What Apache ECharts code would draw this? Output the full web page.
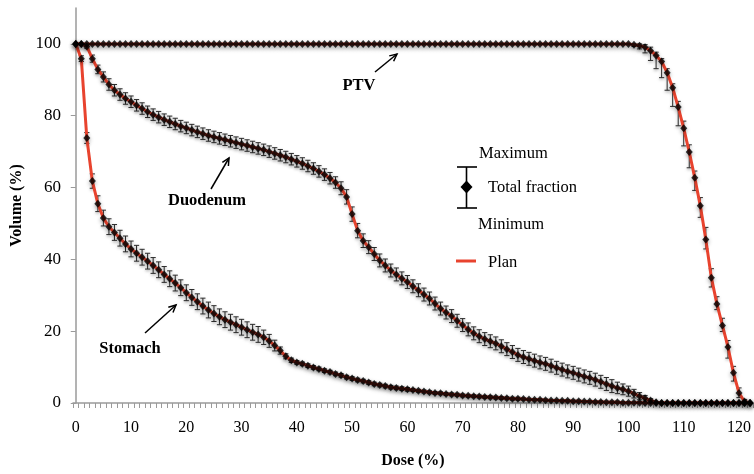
<!DOCTYPE html>
<html>
<head>
<meta charset="utf-8">
<script src="https://cdn.jsdelivr.net/npm/echarts@6/dist/echarts.min.js"></script>
<style>html,body{margin:0;padding:0;background:#fff}#c{width:754px;height:474px}</style>
</head>
<body>
<div id="c"></div>
<script>
// ---- data ----
const dose = [
  0,1,2,3,4,5,6,7,8,9,10,11,12,13,14,15,16,17,18,19,
  20,21,22,23,24,25,26,27,28,29,30,31,32,33,34,35,36,37,38,39,
  40,41,42,43,44,45,46,47,48,49,50,51,52,53,54,55,56,57,58,59,
  60,61,62,63,64,65,66,67,68,69,70,71,72,73,74,75,76,77,78,79,
  80,81,82,83,84,85,86,87,88,89,90,91,92,93,94,95,96,97,98,99,
  100,101,102,103,104,105,106,107,108,109,110,111,112,113,114,115,116,117,118,119,
  120,121,122
];
const xTickLabels = [0,10,20,30,40,50,60,70,80,90,100,110,120];
const yTickLabels = [0,20,40,60,80,100];

const ptv = [
  100,100,100,100,100,100,100,100,100,100,100,100,100,100,100,100,100,100,100,100,
  100,100,100,100,100,100,100,100,100,100,100,100,100,100,100,100,100,100,100,100,
  100,100,100,100,100,100,100,100,100,100,100,100,100,100,100,100,100,100,100,100,
  100,100,100,100,100,100,100,100,100,100,100,100,100,100,100,100,100,100,100,100,
  100,100,100,100,100,100,100,100,100,100,100,100,100,100,100,100,100,100,100,100,
  100,99.8,99.5,99.1,98.1,96.8,95.1,92.0,87.8,82.4,76.5,69.9,62.7,54.9,45.5,34.9,27.6,21.6,15.6,8.4,
  2.8,0.4,0
];
const ptvErrUp = [
  0,0,0,0,0,0,0,0,0,0,0,0,0,0,0,0,0,0,0,0,
  0,0,0,0,0,0,0,0,0,0,0,0,0,0,0,0,0,0,0,0,
  0,0,0,0,0,0,0,0,0,0,0,0,0,0,0,0,0,0,0,0,
  0,0,0,0,0,0,0,0,0,0,0,0,0,0,0,0,0,0,0,0,
  0,0,0,0,0,0,0,0,0,0,0,0,0,0,0,0,0,0,0,0,
  0,0.2,0.5,0.7,1.0,0.9,0.8,1.1,1.1,1.6,2.0,2.0,1.9,2.3,3.4,2.5,2.0,2.0,1.8,1.8,
  1.4,0.6,0
];
const ptvErrDown = [
  0,0,0,0,0,0,0,0,0,0,0,0,0,0,0,0,0,0,0,0,
  0,0,0,0,0,0,0,0,0,0,0,0,0,0,0,0,0,0,0,0,
  0,0,0,0,0,0,0,0,0,0,0,0,0,0,0,0,0,0,0,0,
  0,0,0,0,0,0,0,0,0,0,0,0,0,0,0,0,0,0,0,0,
  0,0,0,0,0,0,0,0,0,0,0,0,0,0,0,0,0,0,0,0,
  0,0.5,0.9,1.6,2.7,3.7,4.5,4.9,5.2,5.2,4.9,4.4,3.5,3.2,2.6,2.6,1.6,1.7,3.1,2.3,
  1.3,0.4,0
];

const duodenum = [
  100,100,99.3,95.9,92.9,90.8,88.7,87.1,85.9,84.8,
  83.9,82.9,82.0,81.1,80.3,79.6,78.9,78.3,77.7,77.1,
  76.6,76.0,75.5,75.0,74.5,74.1,73.7,73.3,72.9,72.5,
  72.1,71.7,71.3,70.9,70.5,70.0,69.5,69.0,68.5,67.9,
  67.3,66.7,66.0,65.3,64.5,63.6,62.6,61.4,59.8,57.4,
  52.6,48.0,45.2,43.4,41.5,39.7,38.3,36.9,35.8,34.7,
  33.7,32.5,31.4,30.2,29.1,27.7,26.3,25.2,24.2,22.9,
  21.7,20.5,19.4,18.6,17.8,17.2,16.6,15.8,15.0,14.2,
  13.4,12.8,12.3,11.8,11.3,10.9,10.4,9.8,9.3,8.8,
  8.4,7.9,7.4,7.0,6.5,5.9,5.3,4.7,4.2,3.8,
  3.3,2.6,1.9,1.3,0.7,0.2,0,0,0,0,
  0,0,0,0,0,0,0,0,0,0,
  0,0,0
];
const duodenumErr = [
  0,0,0.5,1.0,1.2,1.4,1.6,1.6,1.6,1.6,
  1.6,1.6,1.6,1.6,1.6,1.6,1.6,1.6,1.6,1.6,
  1.6,1.6,1.6,1.6,1.6,1.6,1.6,1.6,1.6,1.6,
  1.6,1.6,1.6,1.6,1.6,1.6,1.6,1.6,1.6,1.6,
  1.6,1.6,1.6,1.6,1.6,1.6,1.6,1.6,1.8,2.0,
  2.0,2.0,1.9,1.8,1.8,1.8,1.8,1.8,1.8,1.8,
  1.8,1.8,1.8,1.8,1.8,1.8,1.8,1.8,1.8,1.8,
  1.8,1.8,1.8,1.8,1.8,1.8,1.8,1.8,1.8,1.8,
  1.8,1.8,1.8,1.8,1.8,1.8,1.8,1.8,1.8,1.8,
  1.8,1.8,1.8,1.8,1.8,1.8,1.8,1.8,1.6,1.5,
  1.4,1.2,1.0,0.8,0.5,0.2,0,0,0,0,
  0,0,0,0,0,0,0,0,0,0,
  0,0,0
];

const stomach = [
  100,95.9,73.8,61.8,55.5,51.5,49.1,47.5,45.9,44.3,
  42.9,41.7,40.6,39.5,38.3,37.1,35.8,34.6,33.4,32.1,
  30.7,29.4,28.2,27.0,25.9,24.9,24.0,23.2,22.5,21.8,
  21.1,20.4,19.7,19.1,18.3,17.3,16.0,14.6,13.0,11.9,
  11.3,10.9,10.4,9.9,9.5,9.0,8.6,8.1,7.7,7.2,
  6.8,6.4,6.1,5.7,5.3,5.0,4.7,4.4,4.2,4.0,
  3.8,3.6,3.4,3.2,3.0,2.8,2.7,2.5,2.4,2.3,
  2.1,2.0,1.9,1.8,1.7,1.6,1.5,1.4,1.3,1.2,
  1.2,1.1,1.0,0.9,0.9,0.8,0.7,0.7,0.6,0.6,
  0.5,0.5,0.4,0.4,0.3,0.3,0.2,0.2,0.2,0.1,
  0.1,0.1,0.1,0,0,0,0,0,0,0,
  0,0,0,0,0,0,0,0,0,0,
  0,0,0
];
const stomachErr = [
  0,0.8,1.5,2.0,2.2,2.2,2.2,2.2,2.2,2.2,
  2.2,2.2,2.2,2.2,2.2,2.2,2.2,2.2,2.2,2.2,
  2.2,2.2,2.2,2.2,2.2,2.2,2.2,2.2,2.2,2.2,
  2.2,2.2,2.2,2.2,2.0,1.8,1.5,1.0,0.7,0.6,
  0.5,0.5,0.5,0.5,0.5,0.5,0.5,0.5,0.5,0.5,
  0.5,0.5,0.5,0.5,0.5,0.5,0.5,0.5,0.5,0.5,
  0.5,0.4,0.4,0.4,0.4,0.4,0.4,0.4,0.4,0.4,
  0.4,0.4,0.4,0.4,0.4,0.4,0.4,0.4,0.4,0.4,
  0.4,0.3,0.3,0.3,0.3,0.3,0.3,0.3,0.3,0.3,
  0.3,0.3,0.3,0.3,0.3,0.3,0.3,0.3,0.3,0.3,
  0.3,0.2,0.2,0.2,0,0,0,0,0,0,
  0,0,0,0,0,0,0,0,0,0,
  0,0,0
];

// ---- chart ----
const SERIF = 'Liberation Serif, Times New Roman, serif';
const RED = '#e8432e';
const AXIS = '#9a9a9a';

function pts(vals){ return dose.map((d,i)=>[d, vals[i]]); }
function errPts(vals, up, down){ return dose.map((d,i)=>[d, vals[i]+up[i], vals[i]-down[i]]); }

function renderErr(params, api){
  const x = api.value(0), hi = api.value(1), lo = api.value(2);
  if (hi - lo < 0.05) return null;
  const a = api.coord([x, hi]), b = api.coord([x, lo]);
  const w = 2.6;
  const st = {stroke:'#2a2a2a', lineWidth:1, shadowColor:'rgba(0,0,0,0.35)', shadowBlur:3, shadowOffsetY:1.5};
  return {type:'group', children:[
    {type:'line', shape:{x1:a[0],y1:a[1],x2:b[0],y2:b[1]}, style:st},
    {type:'line', shape:{x1:a[0]-w,y1:a[1],x2:a[0]+w,y2:a[1]}, style:st},
    {type:'line', shape:{x1:b[0]-w,y1:b[1],x2:b[0]+w,y2:b[1]}, style:st}
  ]};
}

const series = [];
const groups = [
  {name:'PTV', v:ptv, up:ptvErrUp, dn:ptvErrDown},
  {name:'Duodenum', v:duodenum, up:duodenumErr, dn:duodenumErr},
  {name:'Stomach', v:stomach, up:stomachErr, dn:stomachErr}
];
groups.forEach(g=>{
  series.push({type:'custom', name:g.name+' range', renderItem:renderErr, data:errPts(g.v,g.up,g.dn), z:2, silent:true, clip:false,
    encode:{x:0, y:[1,2]}});
});
groups.forEach(g=>{
  series.push({type:'line', name:g.name+' plan', data:pts(g.v), symbol:'none', z:3, silent:true,
    lineStyle:{color:RED, width:3}});
});
groups.forEach(g=>{
  series.push({type:'scatter', name:g.name+' total', data:pts(g.v), symbol:'diamond', symbolSize:[7,8], z:4, silent:true,
    itemStyle:{color:'#000', shadowColor:'rgba(0,0,0,0.45)', shadowBlur:4, shadowOffsetY:2}});
});

function arrow(x1,y1,x2,y2){
  const ang = Math.atan2(y2-y1, x2-x1), L = 8, s = 0.45;
  const p1 = [x2 - L*Math.cos(ang - s), y2 - L*Math.sin(ang - s)];
  const p2 = [x2 - L*Math.cos(ang + s), y2 - L*Math.sin(ang + s)];
  return {type:'group', children:[
    {type:'line', shape:{x1:x1,y1:y1,x2:x2,y2:y2}, style:{stroke:'#000', lineWidth:1.5}},
    {type:'polyline', shape:{points:[p1,[x2,y2],p2]}, style:{stroke:'#000', lineWidth:1.5, fill:null}}
  ]};
}
function txt(t, x, y, bold, align){
  return {type:'text', x:x, y:y, style:{text:t, font:(bold?'bold ':'')+'16.5px '+SERIF, fill:'#000',
    align:align||'left', verticalAlign:'middle'}};
}

const graphic = [
  txt('PTV', 359, 86, true, 'center'), arrow(375,72,397,54),
  txt('Duodenum', 207, 201, true, 'center'), arrow(211,189,229,158),
  txt('Stomach', 130, 349, true, 'center'), arrow(145,333,176,305),
  // legend
  txt('Maximum', 479, 154, false),
  {type:'line', shape:{x1:466.5,y1:167,x2:466.5,y2:208}, style:{stroke:'#000', lineWidth:1.6}},
  {type:'line', shape:{x1:457,y1:167,x2:477,y2:167}, style:{stroke:'#000', lineWidth:1.6}},
  {type:'line', shape:{x1:457,y1:208,x2:477,y2:208}, style:{stroke:'#000', lineWidth:1.6}},
  {type:'polygon', shape:{points:[[466.5,180.5],[472.5,187],[466.5,193.5],[460.5,187]]}, style:{fill:'#000'}},
  txt('Total fraction', 488, 188, false),
  txt('Minimum', 478, 225, false),
  {type:'line', shape:{x1:456,y1:261,x2:476,y2:261}, style:{stroke:RED, lineWidth:3}},
  txt('Plan', 488, 263, false)
];

const chart = echarts.init(document.getElementById('c'), null, {renderer:'canvas'});
chart.setOption({
  animation:false,
  backgroundColor:'#fff',
  grid:{left:73, right:0, top:8, bottom:67},
  xAxis:{
    type:'value', min:-0.5, max:122.5,
    name:'Dose (%)', nameLocation:'middle', nameGap:50,
    nameTextStyle:{fontFamily:SERIF, fontWeight:'bold', fontSize:16, color:'#000'},
    axisLine:{show:true, lineStyle:{color:AXIS, width:1.5}},
    axisTick:{show:true, inside:false, length:5, lineStyle:{color:AXIS, width:1},
      customValues: dose.map(d=>d-0.5).concat([122.5])},
    axisLabel:{customValues:xTickLabels, fontFamily:SERIF, fontSize:16, color:'#000', margin:17},
    splitLine:{show:false}
  },
  yAxis:{
    type:'value', min:0, max:110,
    name:'Volume (%)', nameLocation:'middle', nameGap:46, nameRotate:90,
    nameTextStyle:{fontFamily:SERIF, fontWeight:'bold', fontSize:16, color:'#000'},
    axisLine:{show:true, lineStyle:{color:AXIS, width:1.5}},
    axisTick:{show:true, length:5, lineStyle:{color:AXIS, width:1}, customValues:yTickLabels},
    axisLabel:{customValues:yTickLabels, fontFamily:SERIF, fontSize:17, color:'#000', margin:12},
    splitLine:{show:false}
  },
  series:series,
  graphic:graphic
});
</script>
</body>
</html>
